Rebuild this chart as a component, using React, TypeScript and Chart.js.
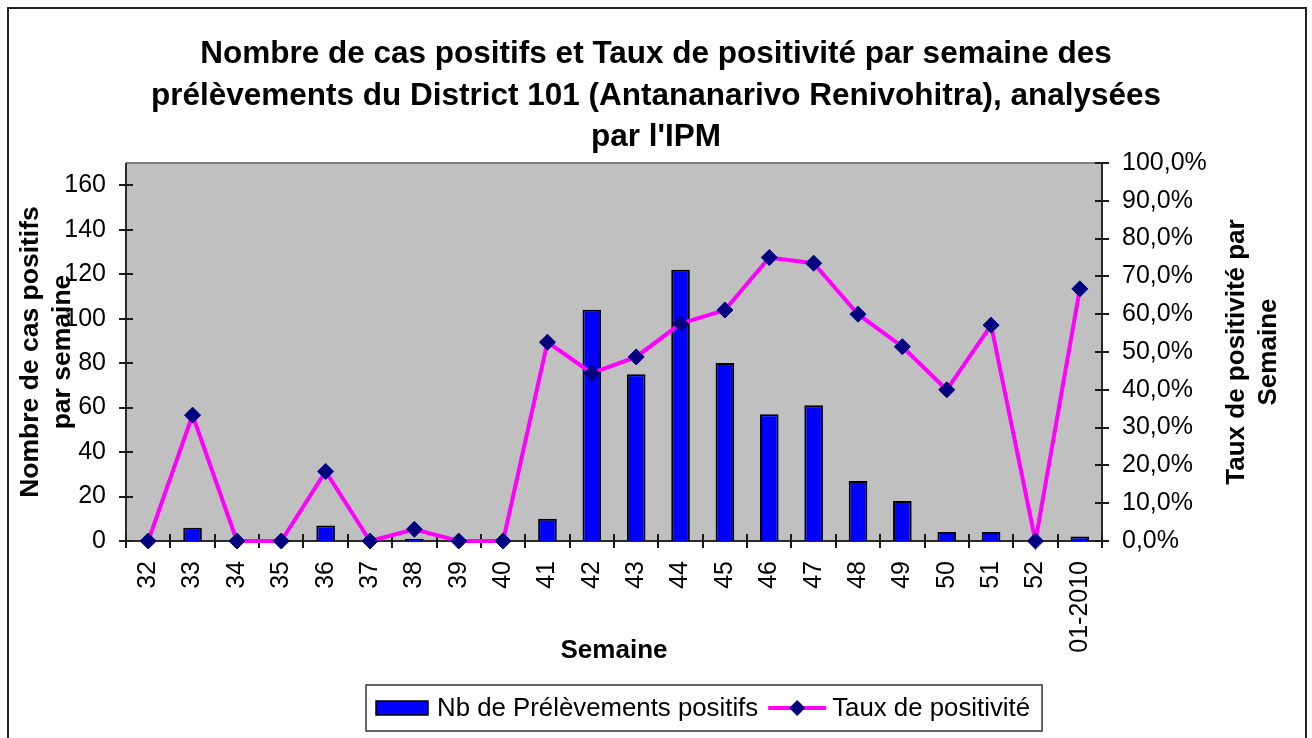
import React, { useEffect, useRef } from 'react';
import { Chart, registerables } from 'chart.js';

Chart.register(...registerables);

const FONT = "'Liberation Sans', Arial, Helvetica, sans-serif";

const weeks = ['32', '33', '34', '35', '36', '37', '38', '39', '40', '41', '42', '43', '44', '45', '46', '47', '48', '49', '50', '51', '52', '01-2010'];
const positiveCounts = [0, 6, 0, 0, 7, 0, 1, 0, 0, 10, 104, 75, 122, 80, 57, 61, 27, 18, 4, 4, 0, 2];
const positivityRates = [0, 33.3, 0, 0, 18.4, 0, 3.1, 0, 0, 52.6, 44.4, 48.7, 57.5, 61.1, 75.0, 73.5, 60.0, 51.4, 40.0, 57.1, 0, 66.7];

const titleLines = [
  'Nombre de cas positifs et Taux de positivité par semaine des',
  'prélèvements du District 101 (Antananarivo Renivohitra), analysées',
  "par l'IPM",
];
const leftAxisTitle = ['Nombre de cas positifs', 'par semaine'];
const rightAxisTitle = ['Taux de positivité par', 'Semaine'];
const xAxisTitle = 'Semaine';
const barLabel = 'Nb de Prélèvements positifs';
const lineLabel = 'Taux de positivité';

const countMax = 170;
const countStep = 20;
const rateMax = 100;
const rateStep = 10;

const decorPlugin = {
  id: 'decor',
  beforeDraw(chart: any) {
    const { ctx, chartArea } = chart;
    ctx.save();
    ctx.fillStyle = '#ffffff';
    ctx.fillRect(0, 0, chart.width, chart.height);
    ctx.strokeStyle = '#222222';
    ctx.lineWidth = 2;
    ctx.strokeRect(8, 8, 1298, 800);
    ctx.fillStyle = '#C0C0C0';
    ctx.fillRect(chartArea.left, chartArea.top, chartArea.right - chartArea.left, chartArea.bottom - chartArea.top);
    ctx.restore();
  },
  beforeDatasetsDraw(chart: any) {
    const { ctx, chartArea, scales } = chart;
    const { left, right, top, bottom } = chartArea;
    ctx.save();
    ctx.strokeStyle = '#808080';
    ctx.lineWidth = 2;
    ctx.beginPath();
    ctx.moveTo(left, top);
    ctx.lineTo(right, top);
    ctx.stroke();
    ctx.strokeStyle = '#2a2a2a';
    ctx.lineWidth = 2;
    ctx.beginPath();
    ctx.moveTo(left, top);
    ctx.lineTo(left, bottom);
    ctx.lineTo(right, bottom);
    ctx.moveTo(right, top);
    ctx.lineTo(right, bottom);
    ctx.stroke();
    ctx.strokeStyle = '#1a1a1a';
    ctx.lineWidth = 2;
    ctx.beginPath();
    const t = 7;
    scales.y.ticks.forEach((tk: any) => {
      const py = Math.round(scales.y.getPixelForValue(tk.value));
      ctx.moveTo(left - t, py);
      ctx.lineTo(left + t, py);
    });
    scales.y1.ticks.forEach((tk: any) => {
      const py = Math.round(scales.y1.getPixelForValue(tk.value));
      ctx.moveTo(right - t, py);
      ctx.lineTo(right + t, py);
    });
    const n = weeks.length;
    const w = (right - left) / n;
    for (let i = 0; i <= n; i++) {
      const px = Math.round(left + i * w);
      ctx.moveTo(px, bottom - t);
      ctx.lineTo(px, bottom + t);
    }
    ctx.stroke();
    ctx.restore();
  },
  afterDraw(chart: any) {
    const { ctx, chartArea } = chart;
    ctx.save();
    ctx.fillStyle = '#000';
    ctx.font = `bold 26px ${FONT}`;
    ctx.textAlign = 'center';
    ctx.textBaseline = 'middle';
    const cy = (chartArea.top + chartArea.bottom) / 2;
    rightAxisTitle.forEach((line, i) => {
      ctx.save();
      ctx.translate(chartArea.right + 135 + i * 32, cy);
      ctx.rotate(-Math.PI / 2);
      ctx.fillText(line, 0, 0);
      ctx.restore();
    });

    ctx.font = `25.8px ${FONT}`;
    const w1 = ctx.measureText(barLabel).width;
    const w2 = ctx.measureText(lineLabel).width;
    const boxLeft = 366;
    const boxTop = 685;
    const boxH = 46;
    const midY = boxTop + boxH / 2;
    const sqX = boxLeft + 10;
    const text1X = sqX + 52 + 9;
    const lineX = text1X + w1 + 10;
    const text2X = lineX + 64;
    const boxRight = text2X + w2 + 12;
    ctx.fillStyle = '#ffffff';
    ctx.fillRect(boxLeft, boxTop, boxRight - boxLeft, boxH);
    ctx.strokeStyle = '#333';
    ctx.lineWidth = 1.5;
    ctx.strokeRect(boxLeft, boxTop, boxRight - boxLeft, boxH);
    ctx.fillStyle = '#0000FF';
    ctx.fillRect(sqX, midY - 7, 52, 14);
    ctx.strokeStyle = '#000';
    ctx.lineWidth = 1.5;
    ctx.strokeRect(sqX, midY - 7, 52, 14);
    ctx.fillStyle = '#000';
    ctx.textAlign = 'left';
    ctx.textBaseline = 'middle';
    ctx.fillText(barLabel, text1X, midY + 1);
    ctx.strokeStyle = '#FF00FF';
    ctx.lineWidth = 4;
    ctx.beginPath();
    ctx.moveTo(lineX, midY);
    ctx.lineTo(lineX + 58, midY);
    ctx.stroke();
    ctx.fillStyle = '#000080';
    const dx = lineX + 29;
    ctx.beginPath();
    ctx.moveTo(dx, midY - 8);
    ctx.lineTo(dx + 8, midY);
    ctx.lineTo(dx, midY + 8);
    ctx.lineTo(dx - 8, midY);
    ctx.closePath();
    ctx.fill();
    ctx.fillStyle = '#000';
    ctx.fillText(lineLabel, text2X, midY + 1);
    ctx.restore();
  },
};

export default function App() {
  const canvasRef = useRef<HTMLCanvasElement | null>(null);

  useEffect(() => {
    const canvas = canvasRef.current;
    if (!canvas) return;
    const tickFont = { family: FONT, size: 25 };
    const chart = new Chart(canvas, {
      data: {
        labels: weeks,
        datasets: [
          {
            type: 'line',
            label: lineLabel,
            data: positivityRates,
            yAxisID: 'y1',
            borderColor: '#FF00FF',
            borderWidth: 4,
            pointStyle: 'rectRot',
            pointRadius: 8,
            pointBackgroundColor: '#000080',
            pointBorderColor: '#000080',
            pointBorderWidth: 1,
            tension: 0,
            order: 0,
            clip: false,
          } as any,
          {
            type: 'bar',
            label: barLabel,
            data: positiveCounts,
            yAxisID: 'y',
            backgroundColor: '#0000FF',
            borderColor: '#000000',
            borderWidth: 2,
            barPercentage: 0.42,
            categoryPercentage: 1,
            order: 1,
          } as any,
        ],
      },
      options: {
        responsive: false,
        animation: false,
        devicePixelRatio: 1,
        layout: { padding: 0 },
        plugins: {
          legend: { display: false },
          tooltip: { enabled: false },
          title: {
            display: true,
            text: titleLines,
            color: '#000',
            font: { family: FONT, size: 31.5, weight: 'bold', lineHeight: 41.5 / 31.5 },
            padding: { top: 34, bottom: 4.5 },
          },
        },
        scales: {
          x: {
            type: 'category',
            offset: true,
            grid: { display: false, drawTicks: false },
            border: { display: false },
            ticks: { autoSkip: false, maxRotation: 90, minRotation: 90, padding: 20, color: '#000', font: tickFont },
            title: {
              display: true,
              text: xAxisTitle,
              color: '#000',
              font: { family: FONT, size: 26, weight: 'bold', lineHeight: 1.2 },
              padding: { top: 0, bottom: 71.4 },
            },
            afterFit: (s: any) => { s.height = 197; },
          },
          y: {
            type: 'linear',
            position: 'left',
            min: 0,
            max: countMax,
            grid: { display: false, drawTicks: false },
            border: { display: false },
            ticks: { stepSize: countStep, includeBounds: false, padding: 20, color: '#000', font: tickFont },
            title: {
              display: true,
              text: leftAxisTitle,
              color: '#000',
              font: { family: FONT, size: 26.5, weight: 'bold', lineHeight: 32 / 26.5 },
              padding: { top: 15, bottom: 0 },
            },
            afterFit: (s: any) => { s.width = 126; },
          },
          y1: {
            type: 'linear',
            position: 'right',
            min: 0,
            max: rateMax,
            grid: { display: false, drawTicks: false },
            border: { display: false },
            ticks: {
              stepSize: rateStep,
              padding: 20,
              color: '#000',
              font: tickFont,
              callback: (v: any) => Number(v).toFixed(1).replace('.', ',') + '%',
            },
            afterFit: (s: any) => { s.width = 210; },
          },
        },
      } as any,
      plugins: [decorPlugin],
    });
    return () => chart.destroy();
  }, []);

  return (
    <div style={{ position: 'fixed', left: 0, top: 0, width: 1312, height: 738, background: '#fff' }}>
      <canvas ref={canvasRef} width={1312} height={738} style={{ display: 'block' }} />
    </div>
  );
}
